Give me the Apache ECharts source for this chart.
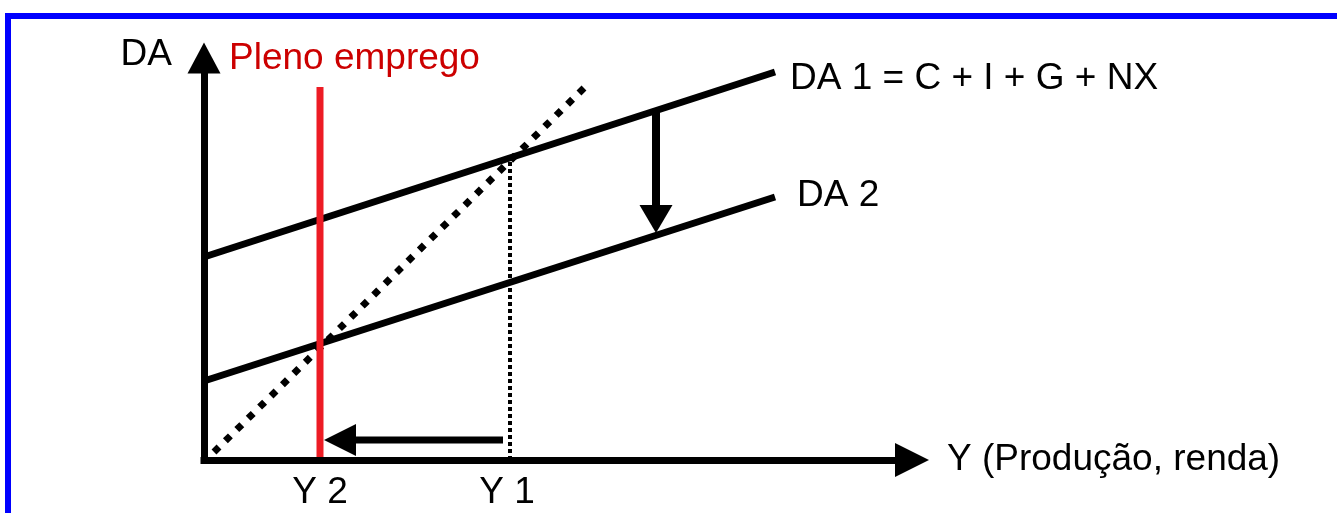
<!DOCTYPE html>
<html><head><meta charset="utf-8">
<script src="https://cdn.jsdelivr.net/npm/echarts@6/dist/echarts.min.js"></script>
<style>html,body{margin:0;padding:0;background:#fff}#c{width:1337px;height:513px}</style>
</head><body><div id="c"></div>
<script>
// ---- Data (schematic units: x = Y output, y = DA aggregate demand) ----
const axisMax = [708, 402];
const da1 = [[0, 203], [571, 388]];
const da2 = [[0, 79], [571, 263]];
const line45 = [[10, 8], [380, 372]];
const plenoEmprego = [[116, 0], [116, 373]];   // Y 2
const y1Line = [[306, 0], [306, 302]];         // Y 1
const shiftArrow = [[299, 20, 120, 20]];       // Y1 -> Y2
const dropArrow = [[452, 349, 452, 227]];      // DA1 -> DA2
const texts = {
  da1: 'DA 1 = C + I + G + NX', da2: 'DA 2', y1: 'Y 1', y2: 'Y 2',
  full: 'Pleno emprego', xName: 'Y (Produção, renda)', yName: 'DA'
};

const FONT = 'Liberation Sans, Arial, sans-serif';
const txt = (color) => ({ color: color || '#000', fontSize: 37, fontFamily: FONT });

function arrowSeries(data, width, headLen, headW) {
  return {
    type: 'custom', data: data, encode: { x: [0, 2], y: [1, 3] }, z: 4, silent: true,
    renderItem: function (params, api) {
      const p1 = api.coord([api.value(0), api.value(1)]);
      const p2 = api.coord([api.value(2), api.value(3)]);
      const dx = p2[0] - p1[0], dy = p2[1] - p1[1];
      const len = Math.sqrt(dx * dx + dy * dy);
      const ux = dx / len, uy = dy / len, nx = -uy, ny = ux;
      const bx = p2[0] - ux * headLen, by = p2[1] - uy * headLen;
      return {
        type: 'group', children: [
          { type: 'line', shape: { x1: p1[0], y1: p1[1], x2: bx + ux * 2, y2: by + uy * 2 },
            style: { stroke: '#000', lineWidth: width } },
          { type: 'polygon', shape: { points: [[p2[0], p2[1]], [bx + nx * headW / 2, by + ny * headW / 2], [bx - nx * headW / 2, by - ny * headW / 2]] },
            style: { fill: '#000' } }
        ]
      };
    }
  };
}

function withLabel(point, label) {
  return { value: point, label: Object.assign({ show: true }, txt(label.color), label) };
}

function lineSeries(data, lineStyle, z) {
  return {
    type: 'line', data: data, showSymbol: true, symbol: 'circle', symbolSize: 0,
    lineStyle: lineStyle, z: z, silent: true, animation: false
  };
}

const chart = echarts.init(document.getElementById('c'), null, { renderer: 'canvas' });
chart.setOption({
  animation: false,
  backgroundColor: '#fff',
  grid: { left: 204, top: 58, right: 425, bottom: 53, containLabel: false, outerBoundsMode: 'none' },
  xAxis: {
    type: 'value', min: 0, max: axisMax[0], z: 6,
    name: texts.xName, nameLocation: 'end', nameGap: 35,
    nameTextStyle: Object.assign(txt(), { verticalAlign: 'middle', padding: [4, 0, 0, 0] }),
    axisLine: { show: true, onZero: false, symbol: ['none', 'triangle'], symbolSize: [34, 34],
      lineStyle: { color: '#000', width: 7, cap: 'square' } },
    axisTick: { show: false }, axisLabel: { show: false }, splitLine: { show: false }
  },
  yAxis: {
    type: 'value', min: 0, max: axisMax[1], z: 6,
    name: texts.yName, nameLocation: 'end', nameGap: 3,
    nameTextStyle: Object.assign(txt(), { align: 'right', verticalAlign: 'middle', padding: [0, 32, 0, 0] }),
    axisLine: { show: true, onZero: false, symbol: ['none', 'triangle'], symbolSize: [33, 31],
      lineStyle: { color: '#000', width: 7, cap: 'square' } },
    axisTick: { show: false }, axisLabel: { show: false }, splitLine: { show: false }
  },
  graphic: [{
    type: 'rect', silent: true, z: 100,
    shape: { x: 8, y: 16, width: 1500, height: 700 },
    style: { fill: 'none', stroke: '#0000ff', lineWidth: 6 }
  }],
  series: [
    lineSeries([da1[0], withLabel(da1[1], { formatter: texts.da1, position: 'right', distance: 15, offset: [0, 7] })],
      { color: '#000', width: 7 }, 2),
    lineSeries([da2[0], withLabel(da2[1], { formatter: texts.da2, position: 'right', distance: 22, offset: [0, -1] })],
      { color: '#000', width: 7 }, 2),
    lineSeries(line45, { color: '#000', width: 7, type: [7, 9], cap: 'butt' }, 2),
    lineSeries([withLabel(y1Line[0], { formatter: texts.y1, position: [-3, 33], align: 'center', verticalAlign: 'middle' }), y1Line[1]],
      { color: '#000', width: 4, type: [4, 3] }, 2),
    arrowSeries(shiftArrow, 7, 32, 32),
    arrowSeries(dropArrow, 8, 28, 33),
    lineSeries([withLabel(plenoEmprego[0], { formatter: texts.y2, position: [0, 33], align: 'center', verticalAlign: 'middle' }),
                withLabel(plenoEmprego[1], { formatter: texts.full, color: '#cc0000', position: [-91, -28], align: 'left', verticalAlign: 'middle' })],
      { color: '#ed1c24', width: 7 }, 5)
  ]
});
</script>
</body></html>
